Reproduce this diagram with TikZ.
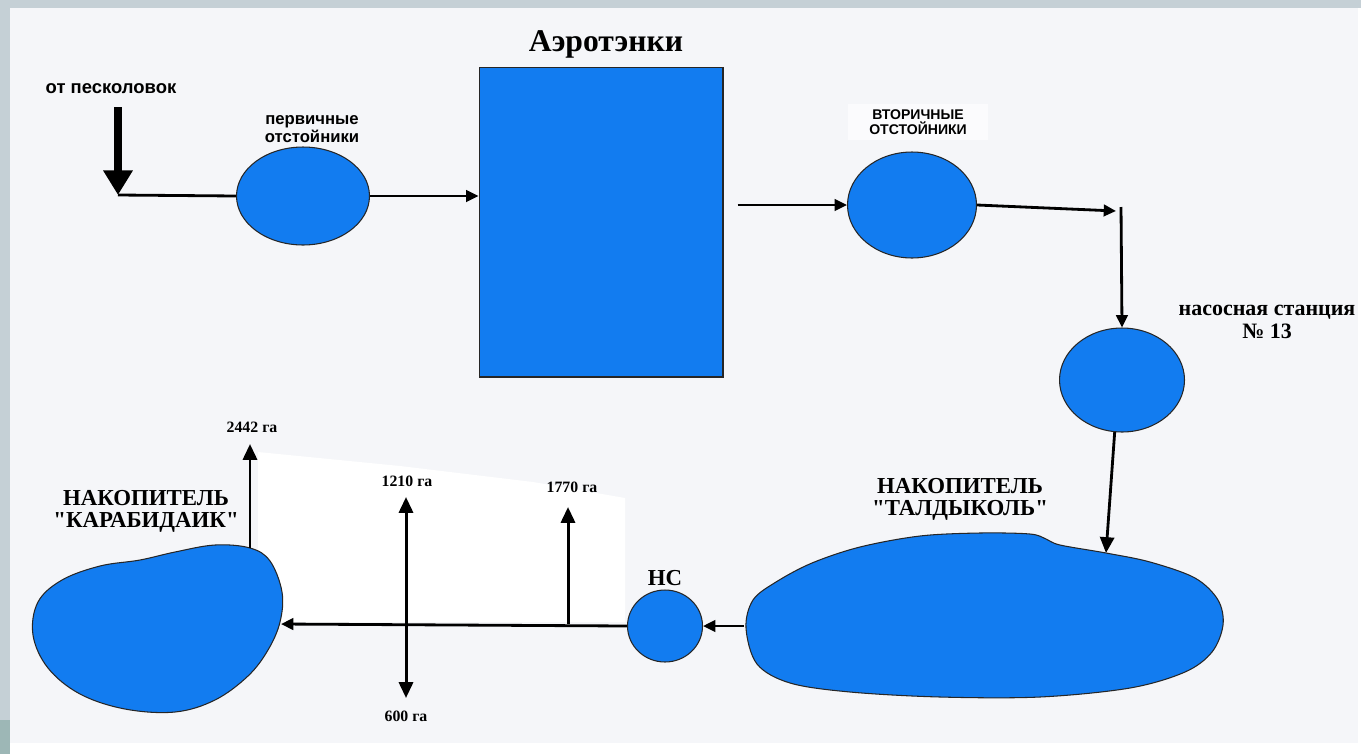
\documentclass[tikz,border=0pt]{standalone}
\usepackage{fontspec}
\setmainfont{Liberation Serif}[Ligatures=TeXOff]
\newfontfamily\arialfont{Liberation Sans}
\usepackage{tikz}
\usetikzlibrary{shapes.geometric, arrows.meta, calc}

\definecolor{tankblue}{RGB}{18,124,240}
\definecolor{pagebg}{RGB}{245,246,249}
\definecolor{framegray}{RGB}{197,208,214}
\definecolor{frameteal}{RGB}{157,183,182}

\tikzset{
  blob/.style={fill=tankblue, draw=black!85, line width=0.6pt},
  tank/.style={blob, ellipse, inner sep=0pt},
  flow/.style={line width=1.6pt, -{Triangle[length=7pt,width=6.5pt]}},
  feed/.style={line width=4.5pt, -{Triangle[length=14pt,width=16pt]}},
  area/.style={line width=1.7pt, -{Triangle[length=9pt,width=8pt]}},
  sanslbl/.style={font=\arialfont\bfseries\fontsize{9.5}{8.5}\selectfont, align=center},
  seriflbl/.style={font=\bfseries\fontsize{13}{12.5}\selectfont, align=center},
  galbl/.style={font=\bfseries\fontsize{9}{10}\selectfont}
}

\begin{document}
\begin{tikzpicture}[x=0.02cm, y=-0.02cm]
  \useasboundingbox (0,0) rectangle (1361,754);
  % --- Page and frame ---
  \fill[white] (0,0) rectangle (1361,754);
  \fill[framegray] (0,0) rectangle (1361,8);
  \fill[framegray] (0,0) rectangle (10,720);
  \fill[frameteal] (0,720) rectangle (10,754);
  \fill[pagebg] (10,8) rectangle (1358,743);
  \fill[white] (258,452) -- (400,466) -- (533,482) -- (625,498) -- (625,622) -- (258,622) -- cycle;

  % --- Treatment line ---
  \node[sanslbl, font=\arialfont\bfseries\fontsize{10.5}{11}\selectfont] (src) at (111,89) {от песколовок};
  \coordinate (feedtop) at (118,107);
  \coordinate (feedend) at (118,195);
  \node[tank, minimum width=2.66cm, minimum height=1.96cm] (prim) at (303,196) {};
  \node[sanslbl] (primlbl) at (312,129) {первичные\\отстойники};
  \node[blob, rectangle, minimum width=4.88cm, minimum height=6.2cm, inner sep=0pt] (aero) at (601,222) {};
  \node[font=\bfseries\fontsize{18}{18}\selectfont] (aerolbl) at (606,44) {Аэротэнки};
  \node[tank, minimum width=2.58cm, minimum height=2.12cm] (sec) at (912,205) {};
  \node[sanslbl, font=\arialfont\bfseries\fontsize{8}{8.5}\selectfont, fill=white!60!pagebg, inner xsep=12pt] (seclbl) at (918,122) {ВТОРИЧНЫЕ\\ОТСТОЙНИКИ};
  \coordinate (turnin) at (1116,211);
  \coordinate (turn) at (1121,207);
  \node[tank, minimum width=2.5cm, minimum height=2.08cm] (pump) at (1122,380) {};
  \node[seriflbl, font=\bfseries\fontsize{12.5}{13}\selectfont] (pumplbl) at (1267,322) {насосная станция\\№ 13};

  % --- Taldykol storage ---
  \draw[blob] plot[smooth cycle, tension=0.55] coordinates {
    (746,628) (753,600) (776,582) (812,563) (860,547) (920,536) (980,533)
    (1030,534) (1046,539) (1060,545) (1106,553) (1150,562) (1195,578)
    (1218,600) (1223,625) (1212,652) (1185,672) (1130,688) (1040,697)
    (940,697) (850,692) (790,683) (757,664)};
  \coordinate (tldtop) at (1106,553);
  \coordinate (tldwest) at (744,626);
  \node[seriflbl] (tldlbl) at (960,499) {НАКОПИТЕЛЬ\\"ТАЛДЫКОЛЬ"};
  \node[tank, minimum width=1.5cm, minimum height=1.44cm] (hs) at (665,626) {};
  \node[seriflbl] (hslbl) at (665,578) {НС};

  % --- Karabidaik storage ---
  \draw[blob] plot[smooth cycle, tension=0.6] coordinates {
    (250,548) (270,561) (282,592) (280,622) (268,650) (248,676) (215,700)
    (175,712) (125,709) (80,694) (48,668) (33,635) (38,602) (62,580)
    (100,566) (140,560) (175,552) (215,545)};
  \coordinate (krbtop) at (250,548);
  \coordinate (krbeast) at (281,624);
  \node[seriflbl] (krblbl) at (146,511) {НАКОПИТЕЛЬ\\"КАРАБИДАИК"};

  % --- Irrigation outlets ---
  \coordinate (br1770) at (568,624);
  \coordinate (up1770) at (568,507);
  \coordinate (up1210) at (406,497);
  \coordinate (dn600) at (406,698);
  \coordinate (up2442) at (250,444);
  \node[galbl] (l2442) at (252,427) {2442 га};
  \node[galbl] (l1210) at (407,481) {1210 га};
  \node[galbl] (l1770) at (572,487) {1770 га};
  \node[galbl] (l600) at (406,716) {600 га};

  % --- Connectors ---
  \draw[feed] (feedtop) -- (feedend);
  \draw[line width=1.6pt] (feedend) -- (prim.west);
  \draw[flow] (prim.east) -- (prim.east -| aero.west);
  \draw[flow, shorten <=8pt] (aero.east |- sec.west) -- (sec.west);
  \draw[flow] (sec.east) -- (turnin);
  \draw[flow] (turn) -- (pump.north);
  \draw[flow, -{Triangle[length=9pt,width=8pt]}] (pump.262) -- (tldtop);
  \draw[flow] (tldwest) -- (hs.east);
  \draw[flow] (hs.west) -- (krbeast);
  \draw[area] (br1770) -- (up1770);
  \draw[area, {Triangle[length=9pt,width=8pt]}-{Triangle[length=9pt,width=8pt]}] (dn600) -- (up1210);
  \draw[area] (krbtop) -- (up2442);
\end{tikzpicture}
\end{document}
